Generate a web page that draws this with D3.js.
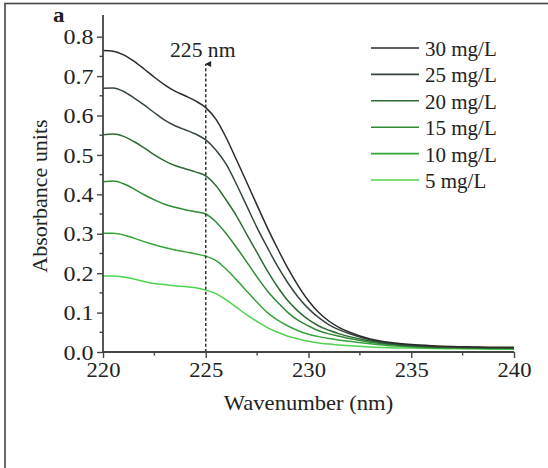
<!DOCTYPE html>
<html>
<head>
<meta charset="utf-8">
<script src="https://cdn.jsdelivr.net/npm/d3@7"></script>
<style>
  html, body { margin: 0; padding: 0; background: #fff; }
  svg { display: block; }
  text { font-family: "Liberation Serif", "Times New Roman", serif; fill: #222; }
</style>
</head>
<body>
<svg id="chart" width="548" height="468"></svg>
<script>
// Wavelength grid (nm)
const wavelengths = [220, 220.5, 221, 221.5, 222, 222.5, 223, 223.5, 224, 224.5, 225,
  225.5, 226, 226.5, 227, 227.5, 228, 228.5, 229, 229.5, 230, 230.5, 231, 231.5, 232,
  233, 234, 235, 236, 237, 238, 239, 240];

// Absorbance spectra for each concentration
const abs30 = [0.765, 0.763, 0.754, 0.738, 0.718, 0.697, 0.678, 0.662, 0.650, 0.637, 0.620,
  0.590, 0.543, 0.487, 0.430, 0.372, 0.315, 0.262, 0.212, 0.168, 0.130, 0.100, 0.078, 0.062, 0.050,
  0.033, 0.024, 0.019, 0.016, 0.014, 0.013, 0.012, 0.012];
const abs25 = [0.669, 0.670, 0.661, 0.645, 0.627, 0.607, 0.588, 0.574, 0.564, 0.553, 0.538,
  0.512, 0.476, 0.425, 0.370, 0.315, 0.265, 0.217, 0.175, 0.139, 0.110, 0.087, 0.069, 0.056, 0.046,
  0.031, 0.022, 0.017, 0.014, 0.013, 0.012, 0.011, 0.011];
const abs20 = [0.551, 0.553, 0.547, 0.534, 0.518, 0.500, 0.485, 0.473, 0.465, 0.457, 0.447,
  0.422, 0.385, 0.345, 0.298, 0.252, 0.206, 0.165, 0.130, 0.103, 0.082, 0.066, 0.055, 0.046, 0.039,
  0.028, 0.020, 0.016, 0.013, 0.012, 0.011, 0.010, 0.010];
const abs15 = [0.432, 0.434, 0.427, 0.414, 0.399, 0.386, 0.375, 0.367, 0.361, 0.356, 0.350,
  0.330, 0.300, 0.265, 0.228, 0.190, 0.155, 0.126, 0.100, 0.080, 0.066, 0.054, 0.046, 0.040, 0.034,
  0.025, 0.019, 0.015, 0.012, 0.011, 0.010, 0.010, 0.009];
const abs10 = [0.301, 0.301, 0.297, 0.289, 0.280, 0.272, 0.265, 0.259, 0.254, 0.249, 0.243,
  0.232, 0.210, 0.183, 0.154, 0.126, 0.100, 0.081, 0.066, 0.054, 0.045, 0.039, 0.034, 0.030, 0.027,
  0.021, 0.016, 0.013, 0.011, 0.010, 0.009, 0.009, 0.008];
const abs5 = [0.193, 0.193, 0.190, 0.185, 0.179, 0.174, 0.171, 0.168, 0.166, 0.163, 0.157,
  0.148, 0.132, 0.113, 0.094, 0.077, 0.062, 0.050, 0.040, 0.033, 0.027, 0.023, 0.020, 0.018, 0.016,
  0.013, 0.011, 0.010, 0.009, 0.008, 0.008, 0.007, 0.007];

const seriesLabels = ["30 mg/L", "25 mg/L", "20 mg/L", "15 mg/L", "10 mg/L", "5 mg/L"];
const seriesValues = [abs30, abs25, abs20, abs15, abs10, abs5];
const seriesColors = ["#2a2a2a", "#34473a", "#2e6a36", "#2f8a34", "#35a53a", "#4fd24f"];

const xTicks = [220, 225, 230, 235, 240];
const yTicks = [0.0, 0.1, 0.2, 0.3, 0.4, 0.5, 0.6, 0.7, 0.8];
const markerWavelength = 225;
const markerLabel = "225 nm";

const svg = d3.select("#chart");
const fontSize = 20;

// text with a slightly widened face
function wideText(parent, px, py, str, sx, opts = {}) {
  const t = parent.append("text")
    .attr("transform", `translate(${px},${py})${opts.rotate ? ` rotate(${opts.rotate})` : ""} scale(${sx},1)`)
    .attr("font-size", opts.size || fontSize)
    .attr("text-anchor", opts.anchor || "start")
    .text(str);
  if (opts.bold) t.attr("font-weight", "bold");
  return t;
}

// outer frame (top and left edges visible)
svg.append("rect")
  .attr("x", 5).attr("y", 3.5).attr("width", 700).attr("height", 700)
  .attr("fill", "none").attr("stroke", "#444").attr("stroke-width", 1.6);

const x = d3.scaleLinear().domain([220, 240]).range([103, 514]);
const y = d3.scaleLinear().domain([0, 0.855]).range([352, 15]);

// spectra
const line = d3.line()
  .x(d => x(d[0]))
  .y(d => y(d[1]))
  .curve(d3.curveMonotoneX);

const plot = svg.append("g");
// lowest concentration first so darker curves sit on top
seriesValues.slice().reverse().forEach((vals, ri) => {
  const i = seriesValues.length - 1 - ri;
  plot.append("path")
    .datum(wavelengths.map((w, k) => [w, vals[k]]))
    .attr("fill", "none")
    .attr("stroke", seriesColors[i])
    .attr("stroke-width", 1.5)
    .attr("d", line);
});

// dashed marker at 225 nm with arrow
svg.append("defs").append("marker")
  .attr("id", "arrow")
  .attr("viewBox", "0 0 10 10")
  .attr("refX", 5).attr("refY", 1)
  .attr("markerWidth", 6).attr("markerHeight", 8)
  .attr("markerUnits", "userSpaceOnUse")
  .attr("orient", "auto-start-reverse")
  .append("path")
  .attr("d", "M0,10 L5,0 L10,10 Z")
  .attr("fill", "#222");

svg.append("line")
  .attr("x1", x(markerWavelength)).attr("x2", x(markerWavelength))
  .attr("y1", y(0)).attr("y2", 64)
  .attr("stroke", "#333")
  .attr("stroke-width", 1.5)
  .attr("stroke-dasharray", "3,2.2")
  .attr("marker-end", "url(#arrow)");

wideText(svg, x(markerWavelength) - 3, 57, markerLabel, 1.08, { anchor: "middle" });

// axes
const xAxis = d3.axisBottom(x)
  .tickValues(xTicks)
  .tickFormat(d3.format("d"))
  .tickSize(6)
  .tickPadding(5);
const gx = svg.append("g").attr("transform", `translate(0,${y(0)})`).call(xAxis);

const yAxis = d3.axisLeft(y)
  .tickValues(yTicks)
  .tickFormat(d3.format(".1f"))
  .tickSize(6)
  .tickPadding(3);
const gy = svg.append("g").attr("transform", `translate(${x(220)},0)`).call(yAxis);

[gx, gy].forEach(g => {
  g.select(".domain").attr("stroke", "#444").attr("stroke-width", 1.8);
  g.selectAll(".tick line").attr("stroke", "#444").attr("stroke-width", 1.4);
  g.selectAll(".tick text")
    .attr("font-family", "Liberation Serif, serif")
    .attr("font-size", fontSize)
    .attr("fill", "#222");
});
gx.selectAll(".tick text").attr("transform", "scale(1.13,1)");
gy.selectAll(".tick text").attr("transform", "scale(1.2,1)").attr("x", -8).attr("dy", "0.36em");
gx.select(".domain").attr("d", `M${x(220)},0H${x(240)}`);
gy.select(".domain").attr("d", `M0,${y(0)}V${y.range()[1]}`);

// minor ticks
const xMinor = d3.range(222.5, 240, 5);
gx.selectAll(".minor").data(xMinor).enter().append("line")
  .attr("x1", d => x(d)).attr("x2", d => x(d))
  .attr("y1", 0).attr("y2", 3.5)
  .attr("stroke", "#444").attr("stroke-width", 1.4);
const yMinor = d3.range(0.05, 0.85, 0.1);
gy.selectAll(".minor").data(yMinor).enter().append("line")
  .attr("x1", 0).attr("x2", -3.5)
  .attr("y1", d => y(d)).attr("y2", d => y(d))
  .attr("stroke", "#444").attr("stroke-width", 1.4);

// axis titles
wideText(svg, x(230), 410, "Wavenumber (nm)", 1.13, { anchor: "middle" });
wideText(svg, 47, 196, "Absorbance units", 1.1, { anchor: "middle", rotate: -90 });

// panel letter
wideText(svg, 53, 22, "a", 1.15, { size: 20, bold: true });

// legend
const legend = svg.append("g");
seriesLabels.forEach((lab, i) => {
  const ly = 48 + i * 26.4;
  legend.append("line")
    .attr("x1", 371).attr("x2", 419)
    .attr("y1", ly).attr("y2", ly)
    .attr("stroke", seriesColors[i]).attr("stroke-width", 1.6);
  wideText(legend, 425, ly + 8, lab, 1.05);
});
</script>
</body>
</html>
